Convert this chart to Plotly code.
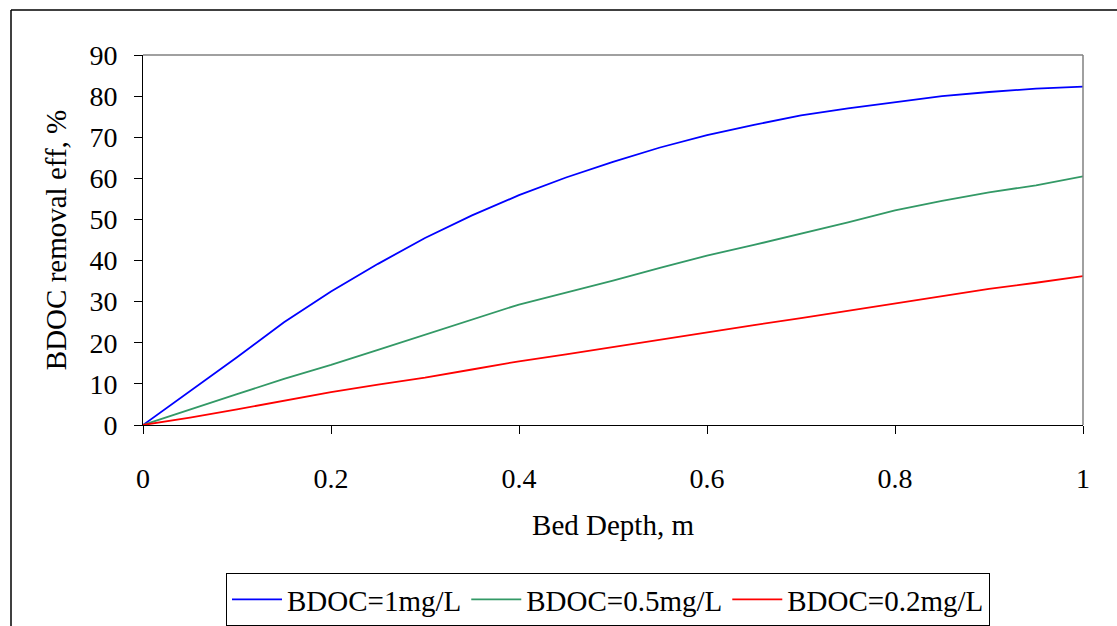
import plotly.graph_objects as go

depth = [0, 0.05, 0.1, 0.15, 0.2, 0.25, 0.3, 0.35, 0.4, 0.45, 0.5,
         0.55, 0.6, 0.65, 0.7, 0.75, 0.8, 0.85, 0.9, 0.95, 1.0]
bdoc_1 = [0, 8.2, 16.5, 25.0, 32.5, 39.2, 45.5, 51.0, 55.9, 60.2, 64.0,
          67.5, 70.5, 73.0, 75.3, 77.0, 78.5, 80.0, 81.0, 81.8, 82.3]
bdoc_05 = [0, 3.8, 7.5, 11.2, 14.6, 18.3, 22.0, 25.6, 29.3, 32.2, 35.1,
           38.2, 41.2, 43.8, 46.5, 49.3, 52.2, 54.5, 56.6, 58.3, 60.5]
bdoc_02 = [0, 1.8, 3.8, 5.9, 8.0, 9.8, 11.5, 13.5, 15.5, 17.2, 19.0,
           20.8, 22.6, 24.3, 26.0, 27.8, 29.6, 31.3, 33.1, 34.6, 36.2]

names = ["BDOC=1mg/L", "BDOC=0.5mg/L", "BDOC=0.2mg/L"]
colors = ["#0000FF", "#339966", "#FF0000"]
series = [bdoc_1, bdoc_05, bdoc_02]

fig = go.Figure()
for n, c, s in zip(names, colors, series):
    fig.add_trace(go.Scatter(x=depth, y=s, mode="lines", name=n,
                             line=dict(color=c, width=1.8)))

W, H = 1117, 626
font = "Liberation Serif, Times New Roman, serif"
fig.update_layout(
    width=W, height=H,
    margin=dict(l=143, r=34, t=55, b=201, autoexpand=False),
    paper_bgcolor="white", plot_bgcolor="white",
    font=dict(family=font, color="black", size=28),
    showlegend=True,
    legend=dict(orientation="h", xref="container", yref="container",
                x=226 / W, y=1 - 573 / H,
                xanchor="left", yanchor="top",
                bordercolor="black", borderwidth=1, font=dict(size=29, family=font),
                itemwidth=50, tracegroupgap=0),
    xaxis=dict(range=[0, 1], tickvals=[0, 0.2, 0.4, 0.6, 0.8, 1],
               ticktext=["0", "0.2", "0.4", "0.6", "0.8", "1"], automargin=False,
               showgrid=False, zeroline=False, showline=True, linecolor="black",
               linewidth=1, ticks="outside", ticklen=8, tickcolor="black",
               ticklabelstandoff=20, tickfont=dict(size=28),
               title=dict(text="Bed Depth, m", font=dict(size=29), standoff=22)),
    yaxis=dict(range=[0, 90], tickvals=list(range(0, 91, 10)), automargin=False,
               showgrid=False, zeroline=False, showline=True, linecolor="black",
               linewidth=1, ticks="outside", ticklen=8, tickcolor="black",
               ticklabelstandoff=11, tickfont=dict(size=28),
               title=dict(text="BDOC removal eff, %", font=dict(size=29), standoff=14)),
    shapes=[
        dict(type="line", xref="paper", yref="paper", x0=0, x1=1, y0=1, y1=1,
             line=dict(color="#808080", width=1.5)),
        dict(type="line", xref="paper", yref="paper", x0=1, x1=1, y0=0, y1=1,
             line=dict(color="#808080", width=1.5)),
        dict(type="line", xref="paper", yref="paper", x0=(11 - 143) / 940, x1=1.05,
             y0=(425 - 10) / 370, y1=(425 - 10) / 370,
             line=dict(color="black", width=1.5)),
        dict(type="line", xref="paper", yref="paper", x0=(11 - 143) / 940, x1=(11 - 143) / 940,
             y0=(425 - 10) / 370, y1=-0.56,
             line=dict(color="black", width=1.5)),
    ],
)

fig.write_html("out.html", config={"displayModeBar": False},
               post_script="document.body.style.margin='0';")
